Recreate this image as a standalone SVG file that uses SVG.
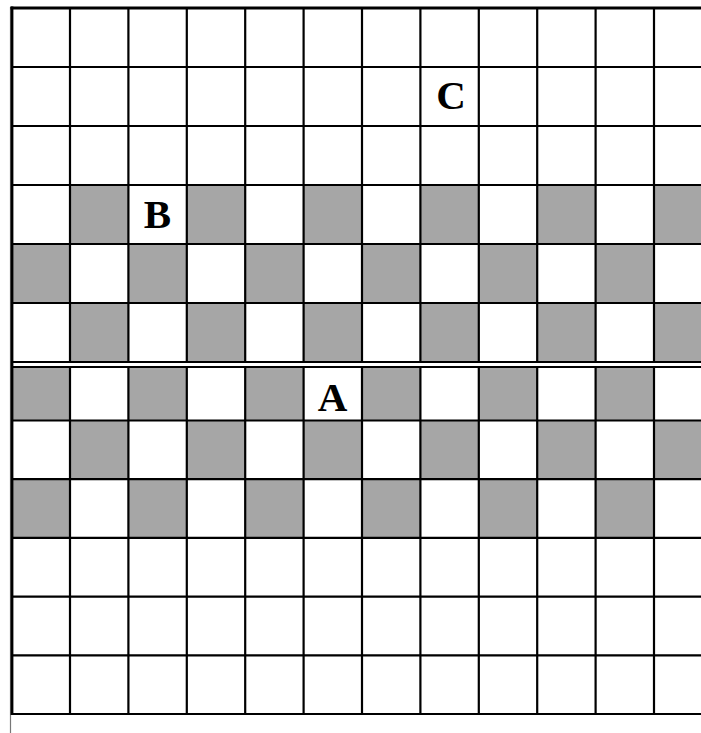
<svg xmlns="http://www.w3.org/2000/svg" width="701" height="733" viewBox="0 0 701 733">
<style>
.g{fill:#a6a6a6}
.ln{stroke:#000;stroke-width:2.2;fill:none}
.lbl{font-family:"Liberation Serif","DejaVu Serif",serif;font-weight:bold;font-size:41px;text-anchor:middle;fill:#000}
</style>
<rect width="701" height="733" fill="#fff"/>
<g id="shaded">
<rect class="g" x="70" y="185" width="58.4" height="59"/>
<rect class="g" x="186.8" y="185" width="58.4" height="59"/>
<rect class="g" x="303.6" y="185" width="58.4" height="59"/>
<rect class="g" x="420.4" y="185" width="58.4" height="59"/>
<rect class="g" x="537.2" y="185" width="58.4" height="59"/>
<rect class="g" x="654" y="185" width="47" height="59"/>
<rect class="g" x="11.6" y="244" width="58.4" height="59"/>
<rect class="g" x="128.4" y="244" width="58.4" height="59"/>
<rect class="g" x="245.2" y="244" width="58.4" height="59"/>
<rect class="g" x="362" y="244" width="58.4" height="59"/>
<rect class="g" x="478.8" y="244" width="58.4" height="59"/>
<rect class="g" x="595.6" y="244" width="58.4" height="59"/>
<rect class="g" x="70" y="303" width="58.4" height="59"/>
<rect class="g" x="186.8" y="303" width="58.4" height="59"/>
<rect class="g" x="303.6" y="303" width="58.4" height="59"/>
<rect class="g" x="420.4" y="303" width="58.4" height="59"/>
<rect class="g" x="537.2" y="303" width="58.4" height="59"/>
<rect class="g" x="654" y="303" width="47" height="59"/>
<rect class="g" x="11.6" y="368" width="58.4" height="52.5"/>
<rect class="g" x="128.4" y="368" width="58.4" height="52.5"/>
<rect class="g" x="245.2" y="368" width="58.4" height="52.5"/>
<rect class="g" x="362" y="368" width="58.4" height="52.5"/>
<rect class="g" x="478.8" y="368" width="58.4" height="52.5"/>
<rect class="g" x="595.6" y="368" width="58.4" height="52.5"/>
<rect class="g" x="70" y="420.5" width="58.4" height="58.7"/>
<rect class="g" x="186.8" y="420.5" width="58.4" height="58.7"/>
<rect class="g" x="303.6" y="420.5" width="58.4" height="58.7"/>
<rect class="g" x="420.4" y="420.5" width="58.4" height="58.7"/>
<rect class="g" x="537.2" y="420.5" width="58.4" height="58.7"/>
<rect class="g" x="654" y="420.5" width="47" height="58.7"/>
<rect class="g" x="11.6" y="479.2" width="58.4" height="58.7"/>
<rect class="g" x="128.4" y="479.2" width="58.4" height="58.7"/>
<rect class="g" x="245.2" y="479.2" width="58.4" height="58.7"/>
<rect class="g" x="362" y="479.2" width="58.4" height="58.7"/>
<rect class="g" x="478.8" y="479.2" width="58.4" height="58.7"/>
<rect class="g" x="595.6" y="479.2" width="58.4" height="58.7"/>
</g>
<g id="grid">
<line x1="10.5" y1="7" x2="10.5" y2="733" stroke="#777" stroke-width="1.2"/>
<line x1="12" y1="6.5" x2="12" y2="715" stroke="#000" stroke-width="2.8"/>
<line x1="10.5" y1="8" x2="701" y2="8" stroke="#000" stroke-width="3"/>
<path class="ln" d="M70 8V362M128.4 8V362M186.8 8V362M245.2 8V362M303.6 8V362M362 8V362M420.4 8V362M478.8 8V362M537.2 8V362M595.6 8V362M654 8V362"/>
<path class="ln" d="M70 367V714M128.4 367V714M186.8 367V714M245.2 367V714M303.6 367V714M362 367V714M420.4 367V714M478.8 367V714M537.2 367V714M595.6 367V714M654 367V714"/>
<path class="ln" d="M12 67H701M12 126H701M12 185H701M12 244H701M12 303H701M12 362H701M12 367H701M12 420.5H701M12 479.2H701M12 537.9H701M12 596.6H701M12 655.3H701M12 714H701"/>
</g>
<g id="labels">
<text class="lbl" x="451" y="109">C</text>
<text class="lbl" x="157.5" y="228">B</text>
<text class="lbl" x="332.5" y="411">A</text>
</g>
</svg>
